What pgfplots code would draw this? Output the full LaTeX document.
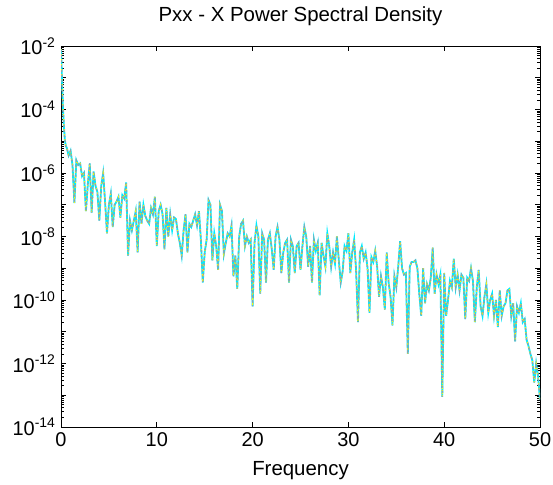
\documentclass[border=0pt]{standalone}
\usepackage{pgfplots}
\usepackage{pgfplotstable}
\pgfplotsset{compat=1.18}
\usepackage{fontspec}
\setmainfont{Liberation Sans}
\definecolor{mcyan}{RGB}{0,235,255}
\definecolor{myellow}{RGB}{255,255,0}
\definecolor{mgray}{RGB}{150,160,170}
\pgfplotstableread{
f P
0.0 7.94e-3
0.1 1.00e-3
0.2 1.26e-4
0.3 3.16e-5
0.4 1.12e-5
0.5 7.08e-6
0.6 6.31e-6
0.8 3.55e-6
1.0 5.01e-6
1.2 1.78e-6
1.4 1.12e-7
1.6 2.51e-6
1.8 1.78e-6
2.0 2.00e-6
2.2 7.94e-7
2.4 1.00e-6
2.6 6.31e-8
2.8 4.47e-7
3.0 2.00e-6
3.2 5.62e-8
3.4 1.12e-6
3.6 3.98e-7
3.8 2.51e-7
4.0 3.16e-8
4.2 3.98e-7
4.4 1.00e-6
4.6 1.26e-7
4.8 1.26e-8
5.0 1.00e-7
5.2 2.24e-7
5.4 2.00e-8
5.6 1.00e-7
5.8 1.26e-7
6.0 1.78e-7
6.2 3.98e-8
6.4 2.00e-7
6.6 1.58e-7
6.8 5.01e-7
7.0 2.51e-9
7.2 3.16e-8
7.4 1.58e-8
7.6 3.16e-8
7.8 6.31e-8
8.0 3.16e-9
8.2 1.26e-7
8.4 2.51e-8
8.6 1.00e-7
8.8 4.47e-8
9.0 3.16e-8
9.2 2.51e-8
9.4 7.94e-8
9.6 5.01e-8
9.8 1.78e-7
10.0 5.01e-9
10.2 6.31e-8
10.4 1.00e-7
10.6 5.01e-8
10.8 3.98e-9
11.0 7.94e-8
11.2 1.00e-8
11.4 5.01e-8
11.6 1.58e-8
11.8 3.98e-8
12.0 3.55e-8
12.2 1.26e-8
12.4 6.31e-9
12.6 2.51e-9
12.8 1.58e-8
13.0 5.01e-8
13.2 3.16e-9
13.4 2.51e-8
13.6 2.00e-8
13.8 3.16e-8
14.0 5.01e-8
14.2 2.24e-8
14.4 6.31e-8
14.6 7.94e-9
14.8 3.55e-10
15.0 3.16e-9
15.2 7.94e-9
15.4 1.41e-7
15.6 1.00e-7
15.8 1.78e-9
16.0 1.26e-8
16.2 5.01e-9
16.4 8.91e-10
16.6 1.00e-7
16.8 6.31e-8
17.0 2.82e-9
17.2 6.31e-9
17.4 1.26e-8
17.6 1.00e-8
17.8 2.24e-8
18.0 5.62e-10
18.2 2.51e-9
18.4 2.24e-10
18.6 1.00e-8
18.8 2.51e-8
19.0 3.16e-8
19.2 5.01e-9
19.4 1.00e-8
19.6 6.31e-9
19.8 7.94e-9
20.0 6.31e-11
20.2 6.31e-9
20.4 2.24e-8
20.6 1.00e-8
20.8 1.58e-10
21.0 1.26e-8
21.2 7.94e-9
21.4 3.55e-10
21.6 7.94e-9
21.8 1.26e-8
22.0 3.98e-9
22.2 8.91e-10
22.4 1.00e-8
22.6 2.00e-8
22.8 7.94e-9
23.0 7.08e-10
23.2 3.16e-9
23.4 6.31e-9
23.6 7.94e-9
23.8 3.55e-10
24.0 7.94e-9
24.2 5.01e-9
24.4 7.08e-10
24.6 5.01e-9
24.8 6.31e-9
25.0 8.91e-10
25.2 5.01e-9
25.4 2.00e-8
25.6 1.00e-8
25.8 1.12e-9
26.0 5.01e-9
26.2 3.55e-10
26.4 7.94e-9
26.6 3.55e-9
26.8 6.31e-9
27.0 1.41e-10
27.2 6.31e-9
27.4 2.51e-9
27.6 1.12e-9
27.8 1.26e-8
28.0 5.01e-9
28.2 1.12e-9
28.4 3.16e-9
28.6 1.41e-9
28.8 1.00e-8
29.0 1.78e-9
29.2 3.55e-10
29.4 7.94e-10
29.6 5.01e-9
29.8 3.55e-9
30.0 1.26e-8
30.2 7.08e-10
30.4 3.16e-9
30.6 7.94e-9
30.8 8.91e-10
31.0 2.00e-11
31.2 3.16e-9
31.4 5.01e-9
31.6 2.00e-9
31.8 3.16e-9
32.0 1.00e-9
32.2 3.98e-11
32.4 2.24e-9
32.6 1.58e-9
32.8 3.55e-9
33.0 1.12e-9
33.2 1.26e-10
33.4 5.62e-10
33.6 2.51e-10
33.8 5.01e-11
34.0 3.16e-9
34.2 3.55e-10
34.4 1.26e-10
34.6 1.58e-11
34.8 5.62e-10
35.0 2.51e-10
35.2 1.12e-9
35.4 7.08e-9
35.6 1.00e-9
35.8 6.31e-10
36.0 7.08e-10
36.2 2.00e-12
36.4 1.12e-9
36.6 1.58e-9
36.8 1.58e-9
37.0 1.78e-9
37.2 1.00e-9
37.4 1.58e-10
37.6 3.16e-11
37.8 1.00e-9
38.0 7.94e-11
38.2 3.16e-10
38.4 2.00e-10
38.6 5.01e-10
38.8 4.47e-9
39.0 1.58e-10
39.2 6.31e-10
39.4 3.16e-10
39.6 6.31e-10
39.8 8.91e-14
40.0 7.08e-10
40.2 3.16e-11
40.4 1.00e-10
40.6 3.98e-10
40.8 2.51e-10
41.0 2.00e-9
41.2 2.51e-10
41.4 6.31e-10
41.6 2.00e-10
41.8 6.31e-10
42.0 5.01e-10
42.2 2.51e-11
42.4 5.01e-10
42.6 3.98e-10
42.8 1.00e-9
43.0 3.98e-10
43.2 2.00e-11
43.4 2.51e-10
43.6 8.91e-10
43.8 6.31e-11
44.0 3.16e-11
44.2 1.26e-10
44.4 3.16e-10
44.6 3.98e-11
44.8 1.00e-10
45.0 1.58e-10
45.2 3.16e-11
45.4 1.00e-10
45.6 1.41e-11
45.8 2.00e-10
46.0 3.16e-11
46.2 6.31e-11
46.4 7.94e-11
46.6 2.00e-10
46.8 2.24e-10
47.0 3.16e-11
47.2 7.94e-11
47.4 5.01e-12
47.6 6.31e-11
47.8 3.98e-11
48.0 7.94e-11
48.2 2.00e-11
48.4 2.51e-11
48.6 5.62e-12
48.8 3.55e-12
49.0 2.00e-12
49.2 1.26e-12
49.4 2.51e-13
49.6 1.00e-12
49.8 3.98e-13
50.0 7.08e-14
}\psd
\begin{document}
\begin{tikzpicture}
\begin{axis}[
  scale only axis,
  width=479bp, height=381bp,
  xmin=0, xmax=50,
  ymode=log, ymin=1e-14, ymax=1e-2,
  xtick={0,10,20,30,40,50},
  ytick={1e-14,1e-13,1e-12,1e-11,1e-10,1e-9,1e-8,1e-7,1e-6,1e-5,1e-4,1e-3,1e-2},
  yticklabels={10\textsuperscript{-14},{},10\textsuperscript{-12},{},10\textsuperscript{-10},{},10\textsuperscript{-8},{},10\textsuperscript{-6},{},10\textsuperscript{-4},{},10\textsuperscript{-2}},
  minor tick num=0,
  tick align=inside,
  major tick length=5bp,
  tick style={black, line width=0.8bp},
  axis line style={black, line width=1bp},
  /pgf/number format/assume math mode=true,
  ticklabel style={font=\fontsize{20}{24}\selectfont},
  xticklabel style={yshift=-2bp},
  yticklabel style={xshift=-2bp},
  title={Pxx - X Power Spectral Density},
  title style={font=\fontsize{20.5}{24}\selectfont, yshift=11bp},
  xlabel={Frequency},
  xlabel style={font=\fontsize{20.5}{24}\selectfont, yshift=-8bp},
]
\addplot[mcyan, line width=1.8bp] table[x=f, y=P] {\psd};
\addplot[mgray, line width=1.3bp, dash pattern=on 3bp off 2bp] table[x=f, y=P] {\psd};
\addplot[myellow, line width=0.9bp, dash pattern=on 1bp off 4bp] table[x=f, y=P] {\psd};
\end{axis}
\pgfresetboundingbox
\useasboundingbox ([shift={(-61bp,-57bp)}]current axis.south west) rectangle ([shift={(13bp,46bp)}]current axis.north east);
\end{tikzpicture}
\end{document}
